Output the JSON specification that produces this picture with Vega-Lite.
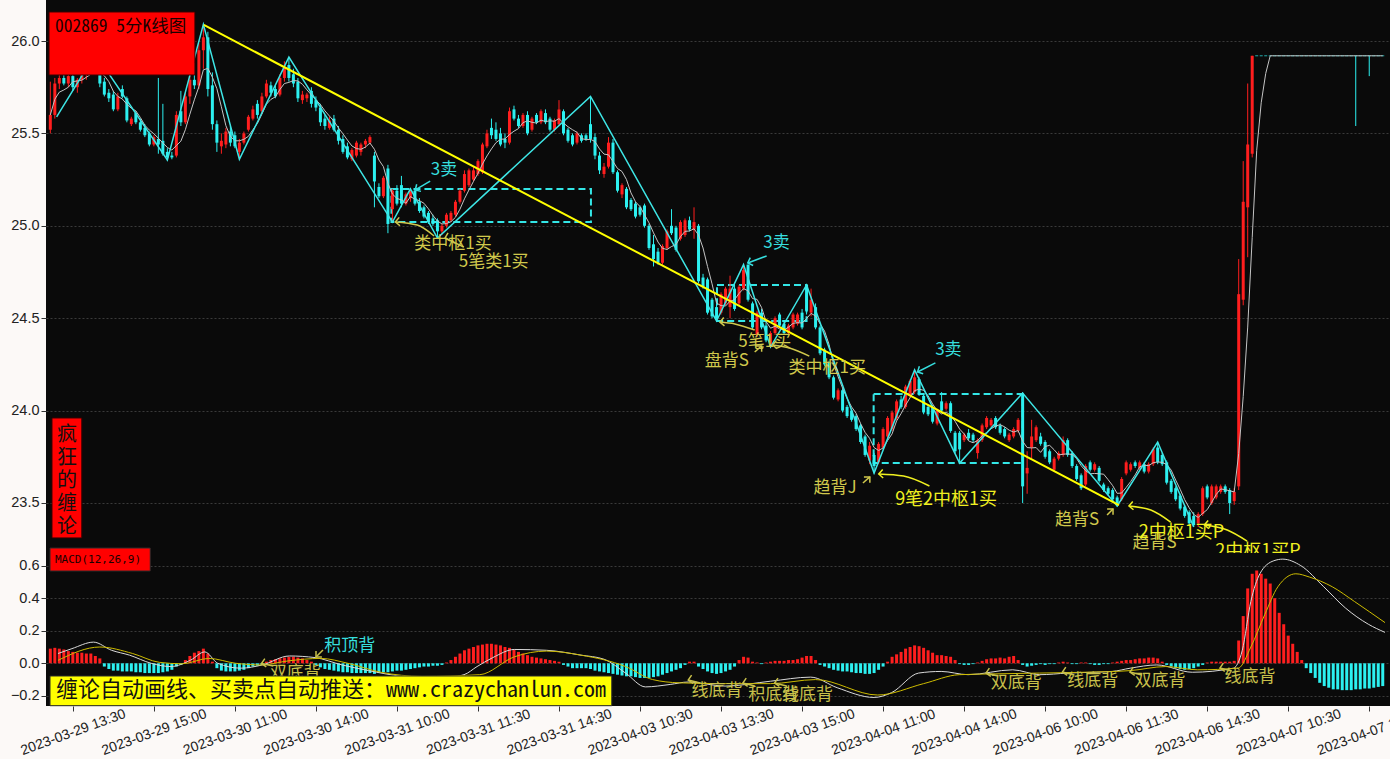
{
"$schema": "https://vega.github.io/schema/vega-lite/v6.json",
"background": "#fcf9f7",
"padding": 0,
"spacing": 0,
"bounds": "flush",
"config": {"view": {"stroke": null}, "text": {"font": "Noto Sans CJK SC"}},
"datasets": {
"k": [
{"i":0,"o":25.52,"h":25.78,"l":25.5,"c":25.6,"m":0.09},
{"i":1,"o":25.6,"h":25.8,"l":25.58,"c":25.77,"m":0.095},
{"i":2,"o":25.77,"h":25.83,"l":25.74,"c":25.8,"m":0.09},
{"i":3,"o":25.8,"h":25.84,"l":25.76,"c":25.77,"m":0.085},
{"i":4,"o":25.77,"h":25.83,"l":25.75,"c":25.81,"m":0.075},
{"i":5,"o":25.81,"h":25.84,"l":25.73,"c":25.75,"m":0.07},
{"i":6,"o":25.75,"h":25.8,"l":25.72,"c":25.79,"m":0.065},
{"i":7,"o":25.79,"h":25.84,"l":25.77,"c":25.82,"m":0.065},
{"i":8,"o":25.82,"h":25.87,"l":25.79,"c":25.85,"m":0.06},
{"i":9,"o":25.85,"h":25.91,"l":25.83,"c":25.89,"m":0.06},
{"i":10,"o":25.89,"h":25.93,"l":25.82,"c":25.84,"m":0.045},
{"i":11,"o":25.84,"h":25.86,"l":25.75,"c":25.77,"m":0.03},
{"i":12,"o":25.78,"h":25.8,"l":25.7,"c":25.71,"m":-0.02},
{"i":13,"o":25.72,"h":25.74,"l":25.67,"c":25.69,"m":-0.035},
{"i":14,"o":25.71,"h":25.73,"l":25.62,"c":25.63,"m":-0.045},
{"i":15,"o":25.63,"h":25.72,"l":25.62,"c":25.7,"m":-0.045},
{"i":16,"o":25.74,"h":25.76,"l":25.69,"c":25.7,"m":-0.05},
{"i":17,"o":25.69,"h":25.7,"l":25.56,"c":25.57,"m":-0.05},
{"i":18,"o":25.55,"h":25.59,"l":25.54,"c":25.58,"m":-0.05},
{"i":19,"o":25.61,"h":25.62,"l":25.55,"c":25.56,"m":-0.055},
{"i":20,"o":25.56,"h":25.58,"l":25.51,"c":25.52,"m":-0.055},
{"i":21,"o":25.53,"h":25.55,"l":25.48,"c":25.49,"m":-0.06},
{"i":22,"o":25.5,"h":25.51,"l":25.43,"c":25.44,"m":-0.06},
{"i":23,"o":25.44,"h":25.49,"l":25.43,"c":25.48,"m":-0.06},
{"i":24,"o":25.47,"h":25.8,"l":25.39,"c":25.44,"m":-0.06},
{"i":25,"o":25.46,"h":25.66,"l":25.38,"c":25.39,"m":-0.055},
{"i":26,"o":25.4,"h":25.42,"l":25.35,"c":25.37,"m":-0.05},
{"i":27,"o":25.38,"h":25.4,"l":25.36,"c":25.37,"m":-0.04},
{"i":28,"o":25.38,"h":25.62,"l":25.37,"c":25.6,"m":-0.02},
{"i":29,"o":25.62,"h":25.73,"l":25.54,"c":25.56,"m":-0.01},
{"i":30,"o":25.56,"h":25.72,"l":25.55,"c":25.7,"m":0.02},
{"i":31,"o":25.7,"h":25.82,"l":25.66,"c":25.79,"m":0.045},
{"i":32,"o":25.79,"h":25.88,"l":25.74,"c":25.76,"m":0.065},
{"i":33,"o":25.76,"h":25.99,"l":25.74,"c":25.95,"m":0.075},
{"i":34,"o":25.95,"h":26.09,"l":25.85,"c":26.02,"m":0.09},
{"i":35,"o":26.02,"h":26.05,"l":25.7,"c":25.74,"m":0.06},
{"i":36,"o":25.76,"h":25.83,"l":25.52,"c":25.55,"m":0.01},
{"i":37,"o":25.55,"h":25.57,"l":25.4,"c":25.45,"m":-0.03},
{"i":38,"o":25.43,"h":25.5,"l":25.39,"c":25.46,"m":-0.045},
{"i":39,"o":25.44,"h":25.53,"l":25.42,"c":25.51,"m":-0.05},
{"i":40,"o":25.51,"h":25.54,"l":25.43,"c":25.45,"m":-0.05},
{"i":41,"o":25.49,"h":25.51,"l":25.42,"c":25.43,"m":-0.05},
{"i":42,"o":25.4,"h":25.47,"l":25.36,"c":25.45,"m":-0.045},
{"i":43,"o":25.45,"h":25.51,"l":25.44,"c":25.5,"m":-0.04},
{"i":44,"o":25.52,"h":25.6,"l":25.51,"c":25.59,"m":-0.03},
{"i":45,"o":25.58,"h":25.65,"l":25.57,"c":25.63,"m":-0.02},
{"i":46,"o":25.66,"h":25.68,"l":25.58,"c":25.6,"m":-0.015},
{"i":47,"o":25.62,"h":25.72,"l":25.61,"c":25.7,"m":-0.01},
{"i":48,"o":25.7,"h":25.79,"l":25.69,"c":25.77,"m":0.01},
{"i":49,"o":25.76,"h":25.78,"l":25.7,"c":25.72,"m":0.02},
{"i":50,"o":25.74,"h":25.76,"l":25.69,"c":25.7,"m":0.025},
{"i":51,"o":25.71,"h":25.82,"l":25.7,"c":25.8,"m":0.03},
{"i":52,"o":25.8,"h":25.89,"l":25.78,"c":25.86,"m":0.035},
{"i":53,"o":25.87,"h":25.91,"l":25.78,"c":25.8,"m":0.04},
{"i":54,"o":25.82,"h":25.85,"l":25.75,"c":25.77,"m":0.04},
{"i":55,"o":25.78,"h":25.8,"l":25.67,"c":25.69,"m":0.035},
{"i":56,"o":25.68,"h":25.73,"l":25.66,"c":25.71,"m":0.03},
{"i":57,"o":25.69,"h":25.72,"l":25.67,"c":25.71,"m":0.02},
{"i":58,"o":25.73,"h":25.75,"l":25.64,"c":25.66,"m":0.01},
{"i":59,"o":25.68,"h":25.7,"l":25.62,"c":25.64,"m":-0.01},
{"i":60,"o":25.64,"h":25.66,"l":25.54,"c":25.56,"m":-0.025},
{"i":61,"o":25.58,"h":25.6,"l":25.52,"c":25.54,"m":-0.035},
{"i":62,"o":25.53,"h":25.59,"l":25.52,"c":25.57,"m":-0.04},
{"i":63,"o":25.58,"h":25.6,"l":25.51,"c":25.52,"m":-0.045},
{"i":64,"o":25.52,"h":25.54,"l":25.44,"c":25.46,"m":-0.05},
{"i":65,"o":25.47,"h":25.49,"l":25.39,"c":25.4,"m":-0.055},
{"i":66,"o":25.43,"h":25.45,"l":25.36,"c":25.37,"m":-0.055},
{"i":67,"o":25.36,"h":25.42,"l":25.35,"c":25.41,"m":-0.06},
{"i":68,"o":25.38,"h":25.46,"l":25.37,"c":25.45,"m":-0.06},
{"i":69,"o":25.4,"h":25.45,"l":25.38,"c":25.44,"m":-0.06},
{"i":70,"o":25.44,"h":25.47,"l":25.42,"c":25.46,"m":-0.06},
{"i":71,"o":25.45,"h":25.49,"l":25.44,"c":25.48,"m":-0.06},
{"i":72,"o":25.38,"h":25.4,"l":25.1,"c":25.24,"m":-0.065},
{"i":73,"o":25.21,"h":25.23,"l":25.15,"c":25.16,"m":-0.06},
{"i":74,"o":25.16,"h":25.27,"l":25.15,"c":25.26,"m":-0.055},
{"i":75,"o":25.31,"h":25.33,"l":24.96,"c":25.01,"m":-0.055},
{"i":76,"o":25.09,"h":25.2,"l":25.02,"c":25.19,"m":-0.05},
{"i":77,"o":25.19,"h":25.22,"l":25.11,"c":25.12,"m":-0.045},
{"i":78,"o":25.22,"h":25.27,"l":25.1,"c":25.12,"m":-0.045},
{"i":79,"o":25.12,"h":25.18,"l":25.11,"c":25.17,"m":-0.04},
{"i":80,"o":25.15,"h":25.2,"l":25.13,"c":25.19,"m":-0.035},
{"i":81,"o":25.19,"h":25.2,"l":25.11,"c":25.12,"m":-0.03},
{"i":82,"o":25.13,"h":25.15,"l":25.07,"c":25.08,"m":-0.025},
{"i":83,"o":25.1,"h":25.11,"l":25.04,"c":25.05,"m":-0.02},
{"i":84,"o":25.07,"h":25.08,"l":25.01,"c":25.02,"m":-0.02},
{"i":85,"o":25.04,"h":25.06,"l":25.0,"c":25.01,"m":-0.015},
{"i":86,"o":25.03,"h":25.04,"l":24.93,"c":24.97,"m":-0.015},
{"i":87,"o":24.97,"h":25.01,"l":24.95,"c":25.0,"m":-0.01},
{"i":88,"o":25.0,"h":25.07,"l":24.99,"c":25.06,"m":0.005},
{"i":89,"o":25.03,"h":25.08,"l":25.02,"c":25.07,"m":0.02},
{"i":90,"o":25.06,"h":25.14,"l":25.05,"c":25.13,"m":0.04},
{"i":91,"o":25.13,"h":25.2,"l":25.12,"c":25.19,"m":0.06},
{"i":92,"o":25.19,"h":25.3,"l":25.18,"c":25.28,"m":0.08},
{"i":93,"o":25.22,"h":25.31,"l":25.21,"c":25.3,"m":0.09},
{"i":94,"o":25.25,"h":25.32,"l":25.24,"c":25.3,"m":0.1},
{"i":95,"o":25.28,"h":25.36,"l":25.27,"c":25.35,"m":0.11},
{"i":96,"o":25.29,"h":25.45,"l":25.28,"c":25.44,"m":0.115},
{"i":97,"o":25.43,"h":25.52,"l":25.42,"c":25.5,"m":0.12},
{"i":98,"o":25.53,"h":25.58,"l":25.47,"c":25.49,"m":0.12},
{"i":99,"o":25.52,"h":25.56,"l":25.46,"c":25.47,"m":0.115},
{"i":100,"o":25.5,"h":25.53,"l":25.43,"c":25.44,"m":0.11},
{"i":101,"o":25.47,"h":25.5,"l":25.42,"c":25.45,"m":0.1},
{"i":102,"o":25.45,"h":25.64,"l":25.44,"c":25.62,"m":0.095},
{"i":103,"o":25.63,"h":25.65,"l":25.57,"c":25.58,"m":0.085},
{"i":104,"o":25.58,"h":25.6,"l":25.53,"c":25.54,"m":0.07},
{"i":105,"o":25.54,"h":25.61,"l":25.53,"c":25.6,"m":0.06},
{"i":106,"o":25.6,"h":25.62,"l":25.49,"c":25.5,"m":0.05},
{"i":107,"o":25.52,"h":25.59,"l":25.51,"c":25.58,"m":0.04},
{"i":108,"o":25.6,"h":25.61,"l":25.55,"c":25.56,"m":0.035},
{"i":109,"o":25.56,"h":25.63,"l":25.55,"c":25.62,"m":0.03},
{"i":110,"o":25.61,"h":25.63,"l":25.55,"c":25.56,"m":0.025},
{"i":111,"o":25.58,"h":25.59,"l":25.51,"c":25.52,"m":0.02},
{"i":112,"o":25.52,"h":25.58,"l":25.51,"c":25.57,"m":0.015},
{"i":113,"o":25.55,"h":25.68,"l":25.54,"c":25.63,"m":0.01},
{"i":114,"o":25.62,"h":25.63,"l":25.49,"c":25.5,"m":-0.01},
{"i":115,"o":25.52,"h":25.53,"l":25.45,"c":25.46,"m":-0.02},
{"i":116,"o":25.49,"h":25.5,"l":25.43,"c":25.44,"m":-0.03},
{"i":117,"o":25.45,"h":25.51,"l":25.44,"c":25.5,"m":-0.03},
{"i":118,"o":25.49,"h":25.5,"l":25.45,"c":25.46,"m":-0.03},
{"i":119,"o":25.49,"h":25.5,"l":25.46,"c":25.47,"m":-0.03},
{"i":120,"o":25.55,"h":25.7,"l":25.45,"c":25.47,"m":-0.035},
{"i":121,"o":25.48,"h":25.5,"l":25.36,"c":25.38,"m":-0.045},
{"i":122,"o":25.38,"h":25.4,"l":25.28,"c":25.3,"m":-0.05},
{"i":123,"o":25.28,"h":25.34,"l":25.26,"c":25.32,"m":-0.055},
{"i":124,"o":25.32,"h":25.48,"l":25.31,"c":25.45,"m":-0.06},
{"i":125,"o":25.45,"h":25.47,"l":25.28,"c":25.29,"m":-0.065},
{"i":126,"o":25.29,"h":25.3,"l":25.18,"c":25.19,"m":-0.07},
{"i":127,"o":25.17,"h":25.23,"l":25.15,"c":25.22,"m":-0.075},
{"i":128,"o":25.2,"h":25.21,"l":25.09,"c":25.1,"m":-0.08},
{"i":129,"o":25.14,"h":25.15,"l":25.08,"c":25.09,"m":-0.08},
{"i":130,"o":25.12,"h":25.13,"l":25.04,"c":25.05,"m":-0.085},
{"i":131,"o":25.1,"h":25.11,"l":25.05,"c":25.06,"m":-0.09},
{"i":132,"o":25.11,"h":25.12,"l":24.99,"c":25.0,"m":-0.09},
{"i":133,"o":25.0,"h":25.01,"l":24.87,"c":24.88,"m":-0.09},
{"i":134,"o":24.9,"h":24.95,"l":24.78,"c":24.82,"m":-0.085},
{"i":135,"o":24.86,"h":24.88,"l":24.79,"c":24.8,"m":-0.08},
{"i":136,"o":24.8,"h":24.9,"l":24.79,"c":24.89,"m":-0.07},
{"i":137,"o":24.88,"h":24.98,"l":24.87,"c":24.97,"m":-0.06},
{"i":138,"o":25.0,"h":25.09,"l":24.95,"c":24.96,"m":-0.05},
{"i":139,"o":24.99,"h":25.0,"l":24.86,"c":24.87,"m":-0.04},
{"i":140,"o":24.93,"h":25.03,"l":24.92,"c":25.02,"m":-0.03},
{"i":141,"o":24.95,"h":25.04,"l":24.94,"c":25.03,"m":-0.01},
{"i":142,"o":25.03,"h":25.05,"l":24.97,"c":24.98,"m":0.01},
{"i":143,"o":24.98,"h":25.1,"l":24.93,"c":25.02,"m":0.01},
{"i":144,"o":25.0,"h":25.01,"l":24.69,"c":24.7,"m":-0.02},
{"i":145,"o":24.72,"h":24.74,"l":24.66,"c":24.67,"m":-0.035},
{"i":146,"o":24.71,"h":24.72,"l":24.52,"c":24.53,"m":-0.05},
{"i":147,"o":24.6,"h":24.61,"l":24.5,"c":24.51,"m":-0.06},
{"i":148,"o":24.56,"h":24.58,"l":24.48,"c":24.5,"m":-0.065},
{"i":149,"o":24.53,"h":24.64,"l":24.52,"c":24.63,"m":-0.06},
{"i":150,"o":24.58,"h":24.67,"l":24.57,"c":24.66,"m":-0.05},
{"i":151,"o":24.56,"h":24.73,"l":24.5,"c":24.66,"m":-0.04},
{"i":152,"o":24.66,"h":24.68,"l":24.54,"c":24.55,"m":-0.02},
{"i":153,"o":24.58,"h":24.68,"l":24.57,"c":24.67,"m":0.02},
{"i":154,"o":24.66,"h":24.79,"l":24.65,"c":24.76,"m":0.04},
{"i":155,"o":24.79,"h":24.79,"l":24.59,"c":24.6,"m":0.035},
{"i":156,"o":24.58,"h":24.59,"l":24.44,"c":24.45,"m":0.01},
{"i":157,"o":24.41,"h":24.54,"l":24.4,"c":24.53,"m":0.005},
{"i":158,"o":24.53,"h":24.55,"l":24.44,"c":24.45,"m":-0.005},
{"i":159,"o":24.46,"h":24.48,"l":24.37,"c":24.38,"m":0.005},
{"i":160,"o":24.36,"h":24.43,"l":24.34,"c":24.42,"m":0.01},
{"i":161,"o":24.42,"h":24.51,"l":24.41,"c":24.5,"m":0.015},
{"i":162,"o":24.52,"h":24.53,"l":24.45,"c":24.46,"m":0.015},
{"i":163,"o":24.47,"h":24.48,"l":24.41,"c":24.42,"m":0.015},
{"i":164,"o":24.42,"h":24.47,"l":24.41,"c":24.46,"m":0.02},
{"i":165,"o":24.45,"h":24.53,"l":24.44,"c":24.52,"m":0.02},
{"i":166,"o":24.47,"h":24.53,"l":24.46,"c":24.52,"m":0.025},
{"i":167,"o":24.53,"h":24.55,"l":24.44,"c":24.45,"m":0.035},
{"i":168,"o":24.68,"h":24.68,"l":24.52,"c":24.54,"m":0.045},
{"i":169,"o":24.53,"h":24.66,"l":24.51,"c":24.6,"m":0.045},
{"i":170,"o":24.56,"h":24.58,"l":24.44,"c":24.45,"m":0.02},
{"i":171,"o":24.45,"h":24.46,"l":24.3,"c":24.31,"m":-0.01},
{"i":172,"o":24.33,"h":24.34,"l":24.24,"c":24.25,"m":-0.02},
{"i":173,"o":24.26,"h":24.27,"l":24.17,"c":24.18,"m":-0.03},
{"i":174,"o":24.18,"h":24.19,"l":24.06,"c":24.07,"m":-0.04},
{"i":175,"o":24.06,"h":24.12,"l":24.05,"c":24.11,"m":-0.045},
{"i":176,"o":24.11,"h":24.12,"l":23.99,"c":24.0,"m":-0.05},
{"i":177,"o":24.02,"h":24.03,"l":23.96,"c":23.97,"m":-0.05},
{"i":178,"o":24.0,"h":24.01,"l":23.94,"c":23.95,"m":-0.055},
{"i":179,"o":23.97,"h":23.98,"l":23.89,"c":23.9,"m":-0.06},
{"i":180,"o":23.92,"h":23.93,"l":23.82,"c":23.83,"m":-0.06},
{"i":181,"o":23.86,"h":23.87,"l":23.75,"c":23.76,"m":-0.065},
{"i":182,"o":23.73,"h":23.83,"l":23.71,"c":23.81,"m":-0.065},
{"i":183,"o":23.76,"h":23.77,"l":23.66,"c":23.7,"m":-0.06},
{"i":184,"o":23.72,"h":23.83,"l":23.71,"c":23.82,"m":-0.04},
{"i":185,"o":23.8,"h":23.91,"l":23.79,"c":23.9,"m":-0.02},
{"i":186,"o":23.86,"h":23.97,"l":23.85,"c":23.96,"m":0.01},
{"i":187,"o":23.9,"h":24.0,"l":23.89,"c":23.99,"m":0.04},
{"i":188,"o":23.96,"h":24.06,"l":23.95,"c":24.05,"m":0.055},
{"i":189,"o":24.06,"h":24.08,"l":24.01,"c":24.02,"m":0.07},
{"i":190,"o":24.02,"h":24.14,"l":24.01,"c":24.13,"m":0.09},
{"i":191,"o":24.08,"h":24.17,"l":24.07,"c":24.16,"m":0.1},
{"i":192,"o":24.1,"h":24.22,"l":24.09,"c":24.18,"m":0.11},
{"i":193,"o":24.17,"h":24.18,"l":24.08,"c":24.09,"m":0.105},
{"i":194,"o":24.08,"h":24.09,"l":23.98,"c":23.99,"m":0.095},
{"i":195,"o":24.02,"h":24.03,"l":23.97,"c":23.98,"m":0.08},
{"i":196,"o":24.02,"h":24.03,"l":23.93,"c":23.94,"m":0.065},
{"i":197,"o":23.93,"h":24.01,"l":23.92,"c":24.0,"m":0.05},
{"i":198,"o":24.05,"h":24.1,"l":23.99,"c":24.0,"m":0.05},
{"i":199,"o":24.01,"h":24.05,"l":24.0,"c":24.04,"m":0.045},
{"i":200,"o":24.04,"h":24.05,"l":23.88,"c":23.89,"m":0.04},
{"i":201,"o":23.88,"h":23.89,"l":23.77,"c":23.78,"m":0.02},
{"i":202,"o":23.88,"h":23.89,"l":23.72,"c":23.79,"m":-0.005},
{"i":203,"o":23.84,"h":23.88,"l":23.83,"c":23.87,"m":-0.01},
{"i":204,"o":23.88,"h":23.9,"l":23.84,"c":23.85,"m":-0.01},
{"i":205,"o":23.87,"h":23.88,"l":23.83,"c":23.84,"m":-0.005},
{"i":206,"o":23.77,"h":23.85,"l":23.74,"c":23.84,"m":0.005},
{"i":207,"o":23.84,"h":23.93,"l":23.83,"c":23.92,"m":0.015},
{"i":208,"o":23.91,"h":23.97,"l":23.9,"c":23.96,"m":0.025},
{"i":209,"o":23.92,"h":23.96,"l":23.91,"c":23.95,"m":0.03},
{"i":210,"o":23.96,"h":23.97,"l":23.9,"c":23.91,"m":0.03},
{"i":211,"o":23.92,"h":23.93,"l":23.87,"c":23.88,"m":0.035},
{"i":212,"o":23.9,"h":23.91,"l":23.85,"c":23.86,"m":0.03},
{"i":213,"o":23.84,"h":23.88,"l":23.83,"c":23.87,"m":0.04},
{"i":214,"o":23.86,"h":23.91,"l":23.85,"c":23.9,"m":0.045},
{"i":215,"o":23.89,"h":23.96,"l":23.88,"c":23.95,"m":0.02},
{"i":216,"o":24.09,"h":24.1,"l":23.5,"c":23.59,"m":-0.01},
{"i":217,"o":23.66,"h":23.78,"l":23.55,"c":23.69,"m":-0.02},
{"i":218,"o":23.8,"h":23.95,"l":23.74,"c":23.86,"m":-0.015},
{"i":219,"o":23.84,"h":23.92,"l":23.83,"c":23.91,"m":-0.01},
{"i":220,"o":23.86,"h":23.88,"l":23.81,"c":23.82,"m":-0.005},
{"i":221,"o":23.83,"h":23.84,"l":23.74,"c":23.75,"m":-0.01},
{"i":222,"o":23.78,"h":23.79,"l":23.71,"c":23.72,"m":-0.005},
{"i":223,"o":23.68,"h":23.75,"l":23.67,"c":23.74,"m":-0.005},
{"i":224,"o":23.74,"h":23.78,"l":23.73,"c":23.77,"m":0.005},
{"i":225,"o":23.76,"h":23.86,"l":23.75,"c":23.84,"m":0.01},
{"i":226,"o":23.84,"h":23.85,"l":23.75,"c":23.76,"m":0.005},
{"i":227,"o":23.77,"h":23.78,"l":23.69,"c":23.7,"m":-0.005},
{"i":228,"o":23.7,"h":23.71,"l":23.62,"c":23.63,"m":-0.005},
{"i":229,"o":23.65,"h":23.66,"l":23.57,"c":23.58,"m":0.005},
{"i":230,"o":23.6,"h":23.71,"l":23.59,"c":23.7,"m":0.005},
{"i":231,"o":23.72,"h":23.73,"l":23.67,"c":23.68,"m":-0.005},
{"i":232,"o":23.68,"h":23.72,"l":23.67,"c":23.71,"m":-0.01},
{"i":233,"o":23.69,"h":23.7,"l":23.61,"c":23.62,"m":-0.01},
{"i":234,"o":23.6,"h":23.61,"l":23.56,"c":23.57,"m":-0.005},
{"i":235,"o":23.58,"h":23.59,"l":23.54,"c":23.55,"m":-0.005},
{"i":236,"o":23.57,"h":23.58,"l":23.51,"c":23.52,"m":0.005},
{"i":237,"o":23.53,"h":23.54,"l":23.48,"c":23.5,"m":0.01},
{"i":238,"o":23.52,"h":23.64,"l":23.51,"c":23.63,"m":0.015},
{"i":239,"o":23.66,"h":23.73,"l":23.65,"c":23.72,"m":0.02},
{"i":240,"o":23.68,"h":23.72,"l":23.67,"c":23.71,"m":0.02},
{"i":241,"o":23.72,"h":23.73,"l":23.69,"c":23.7,"m":0.025},
{"i":242,"o":23.69,"h":23.73,"l":23.68,"c":23.72,"m":0.03},
{"i":243,"o":23.71,"h":23.72,"l":23.66,"c":23.67,"m":0.03},
{"i":244,"o":23.67,"h":23.72,"l":23.66,"c":23.71,"m":0.035},
{"i":245,"o":23.71,"h":23.8,"l":23.7,"c":23.79,"m":0.035},
{"i":246,"o":23.8,"h":23.83,"l":23.71,"c":23.72,"m":0.03},
{"i":247,"o":23.76,"h":23.77,"l":23.7,"c":23.71,"m":0.01},
{"i":248,"o":23.72,"h":23.73,"l":23.6,"c":23.61,"m":-0.01},
{"i":249,"o":23.62,"h":23.63,"l":23.55,"c":23.56,"m":-0.02},
{"i":250,"o":23.58,"h":23.59,"l":23.51,"c":23.52,"m":-0.03},
{"i":251,"o":23.54,"h":23.55,"l":23.46,"c":23.47,"m":-0.035},
{"i":252,"o":23.48,"h":23.49,"l":23.42,"c":23.43,"m":-0.04},
{"i":253,"o":23.45,"h":23.46,"l":23.38,"c":23.39,"m":-0.035},
{"i":254,"o":23.43,"h":23.45,"l":23.37,"c":23.38,"m":-0.03},
{"i":255,"o":23.39,"h":23.45,"l":23.37,"c":23.44,"m":-0.02},
{"i":256,"o":23.44,"h":23.59,"l":23.43,"c":23.58,"m":-0.01},
{"i":257,"o":23.59,"h":23.6,"l":23.52,"c":23.53,"m":0.005},
{"i":258,"o":23.5,"h":23.6,"l":23.49,"c":23.59,"m":0.01},
{"i":259,"o":23.53,"h":23.6,"l":23.52,"c":23.59,"m":0.01},
{"i":260,"o":23.56,"h":23.6,"l":23.55,"c":23.59,"m":0.01},
{"i":261,"o":23.59,"h":23.6,"l":23.55,"c":23.56,"m":0.01},
{"i":262,"o":23.57,"h":23.58,"l":23.44,"c":23.5,"m":0.01},
{"i":263,"o":23.51,"h":23.58,"l":23.49,"c":23.56,"m":0.015},
{"i":264,"o":23.59,"h":24.82,"l":23.57,"c":24.63,"m":0.14},
{"i":265,"o":24.6,"h":25.35,"l":24.57,"c":25.13,"m":0.29},
{"i":266,"o":25.1,"h":25.77,"l":24.83,"c":25.44,"m":0.46},
{"i":267,"o":25.39,"h":25.92,"l":25.37,"c":25.92,"m":0.55},
{"i":268,"o":25.92,"h":25.92,"l":25.92,"c":25.92,"m":0.57},
{"i":269,"o":25.92,"h":25.92,"l":25.92,"c":25.92,"m":0.55},
{"i":270,"o":25.92,"h":25.92,"l":25.92,"c":25.92,"m":0.52},
{"i":271,"o":25.92,"h":25.92,"l":25.92,"c":25.92,"m":0.49},
{"i":272,"o":25.92,"h":25.92,"l":25.92,"c":25.92,"m":0.4},
{"i":273,"o":25.92,"h":25.92,"l":25.92,"c":25.92,"m":0.31},
{"i":274,"o":25.92,"h":25.92,"l":25.92,"c":25.92,"m":0.24},
{"i":275,"o":25.92,"h":25.92,"l":25.92,"c":25.92,"m":0.17},
{"i":276,"o":25.92,"h":25.92,"l":25.92,"c":25.92,"m":0.12},
{"i":277,"o":25.92,"h":25.92,"l":25.92,"c":25.92,"m":0.07},
{"i":278,"o":25.92,"h":25.92,"l":25.92,"c":25.92,"m":0.02},
{"i":279,"o":25.92,"h":25.92,"l":25.92,"c":25.92,"m":-0.03},
{"i":280,"o":25.92,"h":25.92,"l":25.92,"c":25.92,"m":-0.06},
{"i":281,"o":25.92,"h":25.92,"l":25.92,"c":25.92,"m":-0.09},
{"i":282,"o":25.92,"h":25.92,"l":25.92,"c":25.92,"m":-0.12},
{"i":283,"o":25.92,"h":25.92,"l":25.92,"c":25.92,"m":-0.14},
{"i":284,"o":25.92,"h":25.92,"l":25.92,"c":25.92,"m":-0.15},
{"i":285,"o":25.92,"h":25.92,"l":25.92,"c":25.92,"m":-0.16},
{"i":286,"o":25.92,"h":25.92,"l":25.92,"c":25.92,"m":-0.16},
{"i":287,"o":25.92,"h":25.92,"l":25.92,"c":25.92,"m":-0.165},
{"i":288,"o":25.92,"h":25.92,"l":25.92,"c":25.92,"m":-0.165},
{"i":289,"o":25.92,"h":25.92,"l":25.92,"c":25.92,"m":-0.165},
{"i":290,"o":25.92,"h":25.92,"l":25.54,"c":25.92,"m":-0.16},
{"i":291,"o":25.92,"h":25.92,"l":25.92,"c":25.92,"m":-0.16},
{"i":292,"o":25.92,"h":25.92,"l":25.92,"c":25.92,"m":-0.155},
{"i":293,"o":25.92,"h":25.92,"l":25.81,"c":25.92,"m":-0.155},
{"i":294,"o":25.92,"h":25.92,"l":25.92,"c":25.92,"m":-0.15},
{"i":295,"o":25.92,"h":25.92,"l":25.92,"c":25.92,"m":-0.145},
{"i":296,"o":25.92,"h":25.92,"l":25.92,"c":25.92,"m":-0.14}
],
"bi": [{"i":1.4,"p":25.59},{"i":10,"p":25.93},{"i":26,"p":25.356},{"i":34,"p":26.09},{"i":42,"p":25.36},{"i":53,"p":25.913},{"i":76,"p":25.02},{"i":80,"p":25.2},{"i":86,"p":24.934},{"i":120,"p":25.7},{"i":148,"p":24.485},{"i":154,"p":24.79},{"i":160,"p":24.344},{"i":168,"p":24.68},{"i":183,"p":23.662},{"i":192,"p":24.22},{"i":202,"p":23.716},{"i":216,"p":24.095},{"i":237,"p":23.484},{"i":246,"p":23.83},{"i":254,"p":23.37}],
"trend": [{"i":34.1,"p":26.087},{"i":237.4,"p":23.489}],
"zs": [{"x1":75.78,"x2":120.1,"y1":25.199,"y2":25.021},{"x1":148.1,"x2":168,"y1":24.68,"y2":24.485},{"x1":182.9,"x2":216,"y1":24.09,"y2":23.716}],
"ann": [
{"i":87.47,"p":25.302,"t":"3卖","c":"#36dede","s":17},
{"i":89.45,"p":24.901,"t":"类中枢1买","c":"#d0c84c","s":17},
{"i":98.49,"p":24.804,"t":"5笔类1买","c":"#d0c84c","s":17},
{"i":161.33,"p":24.907,"t":"3卖","c":"#36dede","s":17},
{"i":158.7,"p":24.371,"t":"5笔1买","c":"#d0c84c","s":17},
{"i":150.3,"p":24.268,"t":"盘背S","c":"#d0c84c","s":17},
{"i":172.6,"p":24.23,"t":"类中枢1买","c":"#d0c84c","s":17},
{"i":199.5,"p":24.328,"t":"3卖","c":"#36dede","s":17},
{"i":174.3,"p":23.581,"t":"趋背J","c":"#d0c84c","s":17},
{"i":199.0,"p":23.516,"t":"9笔2中枢1买","c":"#f0f020","s":18},
{"i":228.1,"p":23.408,"t":"趋背S","c":"#d0c84c","s":17},
{"i":245.3,"p":23.284,"t":"趋背S","c":"#d0c84c","s":17},
{"i":251.3,"p":23.338,"t":"2中枢1买P","c":"#f0f020","s":18},
{"i":268.3,"p":23.235,"t":"2中枢1买P","c":"#f0f020","s":18}
],
"arr": [
{"g":1,"k":1,"i":81.07,"p":25.194,"c":"#36dede"},{"g":1,"k":2,"i":84.38,"p":25.242,"c":"#36dede"},
{"g":2,"k":1,"i":76.66,"p":25.021,"c":"#d0c84c"},{"g":2,"k":2,"i":81.51,"p":25.004,"c":"#d0c84c"},{"g":2,"k":3,"i":85.26,"p":24.945,"c":"#d0c84c"},
{"g":3,"k":1,"i":87.69,"p":24.934,"c":"#d0c84c"},{"g":3,"k":2,"i":91.88,"p":24.885,"c":"#d0c84c"},
{"g":4,"k":1,"i":154.94,"p":24.799,"c":"#36dede"},{"g":4,"k":2,"i":159.13,"p":24.837,"c":"#36dede"},
{"g":5,"k":1,"i":148.76,"p":24.479,"c":"#d0c84c"},{"g":5,"k":2,"i":152.07,"p":24.469,"c":"#d0c84c"},{"g":5,"k":3,"i":156.48,"p":24.436,"c":"#d0c84c"},
{"g":6,"k":1,"i":158.02,"p":24.35,"c":"#d0c84c"},{"g":6,"k":2,"i":156.48,"p":24.317,"c":"#d0c84c"},
{"g":7,"k":1,"i":160.45,"p":24.355,"c":"#d0c84c"},{"g":7,"k":2,"i":164.2,"p":24.339,"c":"#d0c84c"},{"g":7,"k":3,"i":168.61,"p":24.295,"c":"#d0c84c"},
{"g":8,"k":1,"i":192.65,"p":24.209,"c":"#36dede"},{"g":8,"k":2,"i":196.62,"p":24.258,"c":"#36dede"},
{"g":9,"k":1,"i":182.06,"p":23.641,"c":"#d0c84c"},{"g":9,"k":2,"i":180.52,"p":23.608,"c":"#d0c84c"},
{"g":10,"k":1,"i":184.04,"p":23.657,"c":"#f0f020"},{"g":10,"k":2,"i":189.55,"p":23.646,"c":"#f0f020"},{"g":10,"k":3,"i":195.29,"p":23.592,"c":"#f0f020"},
{"g":11,"k":1,"i":236.08,"p":23.468,"c":"#d0c84c"},{"g":11,"k":2,"i":234.76,"p":23.435,"c":"#d0c84c"},
{"g":12,"k":1,"i":239.62,"p":23.484,"c":"#f0f020"},{"g":12,"k":2,"i":244.47,"p":23.462,"c":"#f0f020"},{"g":12,"k":3,"i":248.88,"p":23.397,"c":"#f0f020"},
{"g":13,"k":1,"i":256.37,"p":23.381,"c":"#f0f020"},{"g":13,"k":2,"i":261.45,"p":23.354,"c":"#f0f020"},{"g":13,"k":3,"i":265.86,"p":23.294,"c":"#f0f020"}
],
"heads": [
{"i":81.07,"p":25.194,"a":-31,"c":"#36dede"},
{"i":76.66,"p":25.021,"a":-5,"c":"#d0c84c"},
{"i":87.69,"p":24.934,"a":-15,"c":"#d0c84c"},
{"i":154.94,"p":24.799,"a":-20,"c":"#36dede"},
{"i":148.76,"p":24.479,"a":-5,"c":"#d0c84c"},
{"i":158.02,"p":24.35,"a":135,"c":"#d0c84c"},
{"i":160.45,"p":24.355,"a":-5,"c":"#d0c84c"},
{"i":192.65,"p":24.209,"a":-27,"c":"#36dede"},
{"i":182.06,"p":23.641,"a":135,"c":"#d0c84c"},
{"i":184.04,"p":23.657,"a":-3,"c":"#f0f020"},
{"i":236.08,"p":23.468,"a":135,"c":"#d0c84c"},
{"i":239.62,"p":23.484,"a":-5,"c":"#f0f020"},
{"i":256.37,"p":23.381,"a":-5,"c":"#f0f020"}
],
"dif": [{"i":1.7,"v":0.06},{"i":4.8,"v":0.09},{"i":9.6,"v":0.13},{"i":13.6,"v":0.08},{"i":17.6,"v":0.05},{"i":22.4,"v":0.0},{"i":26.8,"v":-0.02},{"i":31.2,"v":0.02},{"i":34.3,"v":0.07},{"i":37.2,"v":0.0},{"i":42.3,"v":-0.03},{"i":47.1,"v":-0.01},{"i":53.1,"v":0.045},{"i":58.8,"v":0.035},{"i":64.8,"v":-0.01},{"i":70.7,"v":-0.045},{"i":78,"v":-0.08},{"i":86,"v":-0.095},{"i":91.9,"v":-0.07},{"i":94.8,"v":-0.02},{"i":98.3,"v":0.035},{"i":103.1,"v":0.085},{"i":110.2,"v":0.08},{"i":117.9,"v":0.05},{"i":123,"v":0.025},{"i":127.8,"v":-0.06},{"i":132.2,"v":-0.145},{"i":137.7,"v":-0.13},{"i":141.7,"v":-0.115},{"i":149.9,"v":-0.14},{"i":160,"v":-0.11},{"i":168.9,"v":-0.085},{"i":174.8,"v":-0.15},{"i":183,"v":-0.21},{"i":186.9,"v":-0.18},{"i":192.9,"v":-0.06},{"i":197.9,"v":-0.05},{"i":203.9,"v":-0.07},{"i":213.8,"v":-0.04},{"i":219.8,"v":-0.07},{"i":226,"v":-0.06},{"i":235.9,"v":-0.05},{"i":239.9,"v":-0.03},{"i":245.8,"v":-0.01},{"i":253.7,"v":-0.055},{"i":262.8,"v":-0.03},{"i":264.8,"v":0.08},{"i":266.7,"v":0.38},{"i":268.7,"v":0.55},{"i":271.8,"v":0.63},{"i":273.8,"v":0.64},{"i":277.8,"v":0.6},{"i":282.9,"v":0.47},{"i":287.7,"v":0.34},{"i":292.8,"v":0.24},{"i":296.5,"v":0.19}],
"dea": [{"i":1.7,"v":0.018},{"i":11,"v":0.1},{"i":18.3,"v":0.06},{"i":24.2,"v":0.006},{"i":29.3,"v":-0.003},{"i":35.2,"v":0.03},{"i":41.2,"v":0.0},{"i":46.9,"v":-0.01},{"i":52.9,"v":0.015},{"i":60.1,"v":0.03},{"i":66.1,"v":0.0},{"i":73.4,"v":-0.055},{"i":82.6,"v":-0.08},{"i":95.4,"v":-0.07},{"i":103.1,"v":0.04},{"i":110.2,"v":0.075},{"i":117.9,"v":0.05},{"i":127.8,"v":-0.02},{"i":133.8,"v":-0.1},{"i":139.7,"v":-0.12},{"i":149.9,"v":-0.125},{"i":160,"v":-0.125},{"i":170,"v":-0.1},{"i":183.8,"v":-0.195},{"i":194,"v":-0.125},{"i":201.9,"v":-0.07},{"i":209.9,"v":-0.065},{"i":219.8,"v":-0.06},{"i":229.9,"v":-0.055},{"i":239.9,"v":-0.045},{"i":247.8,"v":-0.02},{"i":254.8,"v":-0.04},{"i":263.9,"v":-0.03},{"i":266.7,"v":0.1},{"i":269.8,"v":0.3},{"i":272.7,"v":0.47},{"i":276.7,"v":0.55},{"i":279.7,"v":0.53},{"i":284.8,"v":0.47},{"i":289.7,"v":0.38},{"i":296.5,"v":0.25}],
"mann": [
{"i":66.5,"v":0.109,"t":"积顶背","c":"#36dede"},
{"i":54.39,"v":-0.06,"t":"双底背","c":"#c8c04a"},
{"i":148.1,"v":-0.17,"t":"线底背","c":"#c8c04a"},
{"i":160.7,"v":-0.195,"t":"积底背","c":"#c8c04a"},
{"i":168.2,"v":-0.195,"t":"线底背","c":"#c8c04a"},
{"i":214.6,"v":-0.119,"t":"双底背","c":"#c8c04a"},
{"i":231.6,"v":-0.109,"t":"线底背","c":"#c8c04a"},
{"i":246.5,"v":-0.109,"t":"双底背","c":"#c8c04a"},
{"i":266.5,"v":-0.087,"t":"线底背","c":"#c8c04a"}
],
"marr": [
{"g":1,"i":59.02,"v":0.0387},{"g":1,"i":60.57,"v":0.0817},
{"g":2,"i":46.9,"v":-0.001},{"g":2,"i":49.54,"v":-0.016},
{"g":3,"i":141.71,"v":-0.1026},{"g":3,"i":144.36,"v":-0.121},
{"g":4,"i":153.84,"v":-0.121},{"g":4,"i":156.48,"v":-0.1398},
{"g":5,"i":160.89,"v":-0.121},{"g":5,"i":163.54,"v":-0.1398},
{"g":6,"i":207.86,"v":-0.0596},{"g":6,"i":210.5,"v":-0.078},
{"g":7,"i":224.84,"v":-0.0535},{"g":7,"i":227.49,"v":-0.0719},
{"g":8,"i":239.83,"v":-0.0535},{"g":8,"i":242.48,"v":-0.0719},
{"g":9,"i":259.83,"v":-0.0289},{"g":9,"i":262.47,"v":-0.0473}
],
"mheads": [
{"i":59.02,"v":0.0387,"a":-45},{"i":46.9,"v":-0.001,"a":-10},{"i":141.71,"v":-0.1026,"a":-10},{"i":153.84,"v":-0.121,"a":-10},{"i":160.89,"v":-0.121,"a":-10},{"i":207.86,"v":-0.0596,"a":-10},{"i":224.84,"v":-0.0535,"a":-10},{"i":239.83,"v":-0.0535,"a":-10},{"i":259.83,"v":-0.0289,"a":-10}
]
},
"vconcat": [
{
"width": 1344, "height": 553,
"view": {"fill": "#0a0a0a", "stroke": null},
"encoding": {"x": {"field": "i", "type": "quantitative", "scale": {"domain": [0.15, 296.5], "nice": false, "zero": false}, "axis": null}},
"layer": [
{"data": {"name": "zs"}, "mark": {"type": "rect", "filled": false, "color": "#33e6e6", "strokeWidth": 2, "strokeDash": [7, 4]},
 "encoding": {"x": {"field": "x1", "type": "quantitative", "scale": {"domain": [0.15, 296.5], "nice": false, "zero": false}, "axis": null}, "x2": {"field": "x2"},
  "y": {"field": "y1", "type": "quantitative", "scale": {"domain": [23.2294, 26.2219], "nice": false, "zero": false}, "axis": {"values": [23.5, 24, 24.5, 25, 25.5, 26], "format": ".1f", "grid": true, "gridColor": "#3a3a3a", "gridDash": [2, 2], "tickSize": 5, "tickColor": "#333", "labelPadding": 2, "domain": false, "title": null, "labelFont": "Liberation Sans", "labelFontSize": 14.5, "labelColor": "#222", "minExtent": 46, "maxExtent": 46}},
  "y2": {"field": "y2"}}},
{"data": {"name": "k"}, "mark": {"type": "rule", "strokeWidth": 1, "clip": true},
 "encoding": {"y": {"field": "l", "type": "quantitative", "scale": {"domain": [23.2294, 26.2219], "nice": false, "zero": false}, "axis": {"values": [23.5, 24, 24.5, 25, 25.5, 26], "format": ".1f", "grid": true, "gridColor": "#3a3a3a", "gridDash": [2, 2], "tickSize": 5, "tickColor": "#333", "labelPadding": 2, "domain": false, "title": null, "labelFont": "Liberation Sans", "labelFontSize": 14.5, "labelColor": "#222", "minExtent": 46, "maxExtent": 46}}, "y2": {"field": "h"},
  "color": {"condition": {"test": "datum.c > datum.o", "value": "#ff1e1e"}, "value": "#2cf0f0"}}},
{"data": {"name": "k"}, "mark": {"type": "bar", "width": 3, "clip": true},
 "encoding": {"y": {"field": "o", "type": "quantitative", "scale": {"domain": [23.2294, 26.2219], "nice": false, "zero": false}, "axis": {"values": [23.5, 24, 24.5, 25, 25.5, 26], "format": ".1f", "grid": true, "gridColor": "#3a3a3a", "gridDash": [2, 2], "tickSize": 5, "tickColor": "#333", "labelPadding": 2, "domain": false, "title": null, "labelFont": "Liberation Sans", "labelFontSize": 14.5, "labelColor": "#222", "minExtent": 46, "maxExtent": 46}}, "y2": {"field": "c"},
  "color": {"condition": {"test": "datum.c > datum.o", "value": "#ff1e1e"}, "value": "#2cf0f0"}}},
{"data": {"name": "k"}, "transform": [{"filter": "datum.o == datum.c"}], "mark": {"type": "tick", "orient": "horizontal", "size": 3, "thickness": 1, "color": "#2cf0f0", "clip": true},
 "encoding": {"y": {"field": "c", "type": "quantitative", "scale": {"domain": [23.2294, 26.2219], "nice": false, "zero": false}, "axis": {"values": [23.5, 24, 24.5, 25, 25.5, 26], "format": ".1f", "grid": true, "gridColor": "#3a3a3a", "gridDash": [2, 2], "tickSize": 5, "tickColor": "#333", "labelPadding": 2, "domain": false, "title": null, "labelFont": "Liberation Sans", "labelFontSize": 14.5, "labelColor": "#222", "minExtent": 46, "maxExtent": 46}}}},
{"data": {"name": "k"}, "transform": [{"window": [{"op": "mean", "field": "c", "as": "ma"}], "frame": [-4, 0], "sort": [{"field": "i"}]}],
 "mark": {"type": "line", "color": "#c4c4c4", "strokeWidth": 1, "clip": true},
 "encoding": {"y": {"field": "ma", "type": "quantitative", "scale": {"domain": [23.2294, 26.2219], "nice": false, "zero": false}, "axis": {"values": [23.5, 24, 24.5, 25, 25.5, 26], "format": ".1f", "grid": true, "gridColor": "#3a3a3a", "gridDash": [2, 2], "tickSize": 5, "tickColor": "#333", "labelPadding": 2, "domain": false, "title": null, "labelFont": "Liberation Sans", "labelFontSize": 14.5, "labelColor": "#222", "minExtent": 46, "maxExtent": 46}}}},
{"data": {"name": "bi"}, "mark": {"type": "line", "color": "#3ee6e6", "strokeWidth": 1.5, "clip": true},
 "encoding": {"y": {"field": "p", "type": "quantitative", "scale": {"domain": [23.2294, 26.2219], "nice": false, "zero": false}, "axis": {"values": [23.5, 24, 24.5, 25, 25.5, 26], "format": ".1f", "grid": true, "gridColor": "#3a3a3a", "gridDash": [2, 2], "tickSize": 5, "tickColor": "#333", "labelPadding": 2, "domain": false, "title": null, "labelFont": "Liberation Sans", "labelFontSize": 14.5, "labelColor": "#222", "minExtent": 46, "maxExtent": 46}}}},
{"data": {"name": "trend"}, "mark": {"type": "line", "color": "#ffff00", "strokeWidth": 2, "clip": true},
 "encoding": {"y": {"field": "p", "type": "quantitative", "scale": {"domain": [23.2294, 26.2219], "nice": false, "zero": false}, "axis": {"values": [23.5, 24, 24.5, 25, 25.5, 26], "format": ".1f", "grid": true, "gridColor": "#3a3a3a", "gridDash": [2, 2], "tickSize": 5, "tickColor": "#333", "labelPadding": 2, "domain": false, "title": null, "labelFont": "Liberation Sans", "labelFontSize": 14.5, "labelColor": "#222", "minExtent": 46, "maxExtent": 46}}}},
{"data": {"name": "arr"}, "mark": {"type": "line", "strokeWidth": 1.5, "interpolate": "monotone", "clip": true},
 "encoding": {"y": {"field": "p", "type": "quantitative", "scale": {"domain": [23.2294, 26.2219], "nice": false, "zero": false}, "axis": {"values": [23.5, 24, 24.5, 25, 25.5, 26], "format": ".1f", "grid": true, "gridColor": "#3a3a3a", "gridDash": [2, 2], "tickSize": 5, "tickColor": "#333", "labelPadding": 2, "domain": false, "title": null, "labelFont": "Liberation Sans", "labelFontSize": 14.5, "labelColor": "#222", "minExtent": 46, "maxExtent": 46}},
  "detail": {"field": "g"}, "order": {"field": "k"}, "color": {"field": "c", "type": "nominal", "scale": null}}},
{"data": {"name": "heads"}, "mark": {"type": "point", "shape": "M1,-1L0,0L1,1", "filled": false, "size": 70, "strokeWidth": 1.5, "opacity": 1, "clip": true},
 "encoding": {"y": {"field": "p", "type": "quantitative", "scale": {"domain": [23.2294, 26.2219], "nice": false, "zero": false}, "axis": {"values": [23.5, 24, 24.5, 25, 25.5, 26], "format": ".1f", "grid": true, "gridColor": "#3a3a3a", "gridDash": [2, 2], "tickSize": 5, "tickColor": "#333", "labelPadding": 2, "domain": false, "title": null, "labelFont": "Liberation Sans", "labelFontSize": 14.5, "labelColor": "#222", "minExtent": 46, "maxExtent": 46}},
  "angle": {"field": "a", "type": "quantitative", "scale": null}, "color": {"field": "c", "type": "nominal", "scale": null}}},
{"data": {"name": "ann"}, "mark": {"type": "text", "align": "center", "baseline": "middle", "font": "Noto Sans CJK SC", "clip": true},
 "encoding": {"y": {"field": "p", "type": "quantitative", "scale": {"domain": [23.2294, 26.2219], "nice": false, "zero": false}, "axis": {"values": [23.5, 24, 24.5, 25, 25.5, 26], "format": ".1f", "grid": true, "gridColor": "#3a3a3a", "gridDash": [2, 2], "tickSize": 5, "tickColor": "#333", "labelPadding": 2, "domain": false, "title": null, "labelFont": "Liberation Sans", "labelFontSize": 14.5, "labelColor": "#222", "minExtent": 46, "maxExtent": 46}},
  "text": {"field": "t"}, "color": {"field": "c", "type": "nominal", "scale": null}, "size": {"field": "s", "type": "quantitative", "scale": null}}},
{"data": {"values": [{"x1": -0.29, "x2": 32.12, "y1": 26.157, "y2": 25.816}, {"x1": 0.37, "x2": 6.99, "y1": 23.96, "y2": 23.311}]},
 "mark": {"type": "rect", "color": "#ff0000", "stroke": "#3a0000", "strokeWidth": 1},
 "encoding": {"x": {"field": "x1", "type": "quantitative", "scale": {"domain": [0.15, 296.5], "nice": false, "zero": false}, "axis": null}, "x2": {"field": "x2"},
  "y": {"field": "y1", "type": "quantitative", "scale": {"domain": [23.2294, 26.2219], "nice": false, "zero": false}, "axis": {"values": [23.5, 24, 24.5, 25, 25.5, 26], "format": ".1f", "grid": true, "gridColor": "#3a3a3a", "gridDash": [2, 2], "tickSize": 5, "tickColor": "#333", "labelPadding": 2, "domain": false, "title": null, "labelFont": "Liberation Sans", "labelFontSize": 14.5, "labelColor": "#222", "minExtent": 46, "maxExtent": 46}}, "y2": {"field": "y2"}}},
{"data": {"values": [{"i": 3.68, "p": 23.868, "t": "疯"}, {"i": 3.68, "p": 23.744, "t": "狂"}, {"i": 3.68, "p": 23.619, "t": "的"}, {"i": 3.68, "p": 23.495, "t": "缠"}, {"i": 3.68, "p": 23.37, "t": "论"}]},
 "mark": {"type": "text", "align": "center", "baseline": "middle", "font": "Noto Sans CJK SC", "fontSize": 20, "color": "#111"},
 "encoding": {"y": {"field": "p", "type": "quantitative", "scale": {"domain": [23.2294, 26.2219], "nice": false, "zero": false}, "axis": {"values": [23.5, 24, 24.5, 25, 25.5, 26], "format": ".1f", "grid": true, "gridColor": "#3a3a3a", "gridDash": [2, 2], "tickSize": 5, "tickColor": "#333", "labelPadding": 2, "domain": false, "title": null, "labelFont": "Liberation Sans", "labelFontSize": 14.5, "labelColor": "#222", "minExtent": 46, "maxExtent": 46}}, "text": {"field": "t"}}},
{"data": {"values": [{"i": 1.03, "p": 26.0487, "t": "002869 5分K线图"}]},
 "mark": {"type": "text", "align": "left", "baseline": "alphabetic", "font": "Noto Sans Mono CJK SC, Noto Sans CJK SC", "fontSize": 17.5, "color": "#1a0000"},
 "encoding": {"y": {"field": "p", "type": "quantitative", "scale": {"domain": [23.2294, 26.2219], "nice": false, "zero": false}, "axis": {"values": [23.5, 24, 24.5, 25, 25.5, 26], "format": ".1f", "grid": true, "gridColor": "#3a3a3a", "gridDash": [2, 2], "tickSize": 5, "tickColor": "#333", "labelPadding": 2, "domain": false, "title": null, "labelFont": "Liberation Sans", "labelFontSize": 14.5, "labelColor": "#222", "minExtent": 46, "maxExtent": 46}}, "text": {"field": "t"}}}
]
},
{
"width": 1344, "height": 153,
"view": {"fill": "#0a0a0a", "stroke": null},
"encoding": {"x": {"field": "i", "type": "quantitative", "scale": {"domain": [0.15, 296.5], "nice": false, "zero": false},
   "axis": {"values": [5, 23, 41, 59, 77, 95, 113, 131, 149, 167, 185, 203, 221, 239, 257, 275, 293],
    "labelExpr": "['2023-03-29  13:30','2023-03-29  15:00','2023-03-30  11:00','2023-03-30  14:00','2023-03-31  10:00','2023-03-31  11:30','2023-03-31  14:30','2023-04-03  10:30','2023-04-03  13:30','2023-04-03  15:00','2023-04-04  11:00','2023-04-04  14:00','2023-04-06  10:00','2023-04-06  11:30','2023-04-06  14:30','2023-04-07  10:30','2023-04-07  13:30'][round((datum.value-5)/18)]",
    "labelAngle": -20, "labelAlign": "center", "labelBaseline": "middle", "labelPadding": 21, "labelOverlap": false, "labelBound": false, "labelFlush": false,
    "tickSize": 5, "tickColor": "#333", "domain": false, "grid": false, "title": null, "labelFont": "Liberation Sans", "labelFontSize": 14, "labelColor": "#222"}}},
"layer": [
{"data": {"name": "k"}, "mark": {"type": "bar", "width": 3, "clip": true},
 "encoding": {
  "y": {"field": "m", "type": "quantitative", "scale": {"domain": [-0.2624, 0.6777], "nice": false, "zero": false}, "axis": {"values": [-0.2, 0, 0.2, 0.4, 0.6], "format": ".1f", "grid": true, "gridColor": "#3a3a3a", "gridDash": [2, 2], "tickSize": 5, "tickColor": "#333", "labelPadding": 2, "domain": false, "title": null, "labelFont": "Liberation Sans", "labelFontSize": 14.5, "labelColor": "#222", "minExtent": 46, "maxExtent": 46}},
  "y2": {"datum": 0},
  "color": {"condition": {"test": "datum.m >= 0", "value": "#ff1e1e"}, "value": "#2cf0f0"}}},
{"data": {"name": "dif"}, "mark": {"type": "line", "color": "#d9d9d9", "strokeWidth": 1, "interpolate": "monotone", "clip": true},
 "encoding": {"y": {"field": "v", "type": "quantitative", "scale": {"domain": [-0.2624, 0.6777], "nice": false, "zero": false}, "axis": {"values": [-0.2, 0, 0.2, 0.4, 0.6], "format": ".1f", "grid": true, "gridColor": "#3a3a3a", "gridDash": [2, 2], "tickSize": 5, "tickColor": "#333", "labelPadding": 2, "domain": false, "title": null, "labelFont": "Liberation Sans", "labelFontSize": 14.5, "labelColor": "#222", "minExtent": 46, "maxExtent": 46}}}},
{"data": {"name": "dea"}, "mark": {"type": "line", "color": "#cdbb00", "strokeWidth": 1, "interpolate": "monotone", "clip": true},
 "encoding": {"y": {"field": "v", "type": "quantitative", "scale": {"domain": [-0.2624, 0.6777], "nice": false, "zero": false}, "axis": {"values": [-0.2, 0, 0.2, 0.4, 0.6], "format": ".1f", "grid": true, "gridColor": "#3a3a3a", "gridDash": [2, 2], "tickSize": 5, "tickColor": "#333", "labelPadding": 2, "domain": false, "title": null, "labelFont": "Liberation Sans", "labelFontSize": 14.5, "labelColor": "#222", "minExtent": 46, "maxExtent": 46}}}},
{"data": {"name": "mann"}, "mark": {"type": "text", "align": "center", "baseline": "middle", "font": "Noto Sans CJK SC", "fontSize": 17, "clip": true},
 "encoding": {"y": {"field": "v", "type": "quantitative", "scale": {"domain": [-0.2624, 0.6777], "nice": false, "zero": false}, "axis": {"values": [-0.2, 0, 0.2, 0.4, 0.6], "format": ".1f", "grid": true, "gridColor": "#3a3a3a", "gridDash": [2, 2], "tickSize": 5, "tickColor": "#333", "labelPadding": 2, "domain": false, "title": null, "labelFont": "Liberation Sans", "labelFontSize": 14.5, "labelColor": "#222", "minExtent": 46, "maxExtent": 46}},
  "text": {"field": "t"}, "color": {"field": "c", "type": "nominal", "scale": null}}},
{"data": {"name": "marr"}, "mark": {"type": "line", "strokeWidth": 1.5, "color": "#c8c04a", "clip": true},
 "encoding": {"y": {"field": "v", "type": "quantitative", "scale": {"domain": [-0.2624, 0.6777], "nice": false, "zero": false}, "axis": {"values": [-0.2, 0, 0.2, 0.4, 0.6], "format": ".1f", "grid": true, "gridColor": "#3a3a3a", "gridDash": [2, 2], "tickSize": 5, "tickColor": "#333", "labelPadding": 2, "domain": false, "title": null, "labelFont": "Liberation Sans", "labelFontSize": 14.5, "labelColor": "#222", "minExtent": 46, "maxExtent": 46}}, "detail": {"field": "g"}}},
{"data": {"name": "mheads"}, "mark": {"type": "point", "shape": "M1,-1L0,0L1,1", "filled": false, "size": 70, "strokeWidth": 1.5, "color": "#c8c04a", "opacity": 1, "clip": true},
 "encoding": {"y": {"field": "v", "type": "quantitative", "scale": {"domain": [-0.2624, 0.6777], "nice": false, "zero": false}, "axis": {"values": [-0.2, 0, 0.2, 0.4, 0.6], "format": ".1f", "grid": true, "gridColor": "#3a3a3a", "gridDash": [2, 2], "tickSize": 5, "tickColor": "#333", "labelPadding": 2, "domain": false, "title": null, "labelFont": "Liberation Sans", "labelFontSize": 14.5, "labelColor": "#222", "minExtent": 46, "maxExtent": 46}},
  "angle": {"field": "a", "type": "quantitative", "scale": null}}},
{"data": {"values": [{"x1": -0.07, "x2": 22.2, "y1": 0.7085, "y2": 0.567, "f": "#ff0000"}, {"x1": -0.07, "x2": 124.73, "y1": -0.078, "y2": -0.2605, "f": "#ffff00"}]},
 "mark": {"type": "rect", "stroke": "#2a2a2a", "strokeWidth": 1},
 "encoding": {"x": {"field": "x1", "type": "quantitative", "scale": {"domain": [0.15, 296.5], "nice": false, "zero": false},
   "axis": {"values": [5, 23, 41, 59, 77, 95, 113, 131, 149, 167, 185, 203, 221, 239, 257, 275, 293],
    "labelExpr": "['2023-03-29  13:30','2023-03-29  15:00','2023-03-30  11:00','2023-03-30  14:00','2023-03-31  10:00','2023-03-31  11:30','2023-03-31  14:30','2023-04-03  10:30','2023-04-03  13:30','2023-04-03  15:00','2023-04-04  11:00','2023-04-04  14:00','2023-04-06  10:00','2023-04-06  11:30','2023-04-06  14:30','2023-04-07  10:30','2023-04-07  13:30'][round((datum.value-5)/18)]",
    "labelAngle": -20, "labelAlign": "center", "labelBaseline": "middle", "labelPadding": 21, "labelOverlap": false, "labelBound": false, "labelFlush": false,
    "tickSize": 5, "tickColor": "#333", "domain": false, "grid": false, "title": null, "labelFont": "Liberation Sans", "labelFontSize": 14, "labelColor": "#222"}}, "x2": {"field": "x2"},
  "y": {"field": "y1", "type": "quantitative", "scale": {"domain": [-0.2624, 0.6777], "nice": false, "zero": false}, "axis": {"values": [-0.2, 0, 0.2, 0.4, 0.6], "format": ".1f", "grid": true, "gridColor": "#3a3a3a", "gridDash": [2, 2], "tickSize": 5, "tickColor": "#333", "labelPadding": 2, "domain": false, "title": null, "labelFont": "Liberation Sans", "labelFontSize": 14.5, "labelColor": "#222", "minExtent": 46, "maxExtent": 46}}, "y2": {"field": "y2"},
  "fill": {"field": "f", "type": "nominal", "scale": null}}},
{"data": {"values": [{"i": 1.03, "v": 0.614, "t": "MACD(12,26,9)"}]},
 "mark": {"type": "text", "align": "left", "baseline": "alphabetic", "font": "DejaVu Sans Mono", "fontSize": 11, "color": "#1a0000"},
 "encoding": {"y": {"field": "v", "type": "quantitative", "scale": {"domain": [-0.2624, 0.6777], "nice": false, "zero": false}, "axis": {"values": [-0.2, 0, 0.2, 0.4, 0.6], "format": ".1f", "grid": true, "gridColor": "#3a3a3a", "gridDash": [2, 2], "tickSize": 5, "tickColor": "#333", "labelPadding": 2, "domain": false, "title": null, "labelFont": "Liberation Sans", "labelFontSize": 14.5, "labelColor": "#222", "minExtent": 46, "maxExtent": 46}}, "text": {"field": "t"}}},
{"data": {"values": [{"i": 1.25, "v": -0.205, "t": "缠论自动画线、买卖点自动推送：www.crazychanlun.com"}]},
 "mark": {"type": "text", "align": "left", "baseline": "alphabetic", "font": "Noto Sans Mono CJK SC, Noto Sans CJK SC", "fontSize": 22, "color": "#111"},
 "encoding": {"y": {"field": "v", "type": "quantitative", "scale": {"domain": [-0.2624, 0.6777], "nice": false, "zero": false}, "axis": {"values": [-0.2, 0, 0.2, 0.4, 0.6], "format": ".1f", "grid": true, "gridColor": "#3a3a3a", "gridDash": [2, 2], "tickSize": 5, "tickColor": "#333", "labelPadding": 2, "domain": false, "title": null, "labelFont": "Liberation Sans", "labelFontSize": 14.5, "labelColor": "#222", "minExtent": 46, "maxExtent": 46}}, "text": {"field": "t"}}}
]
}
]
}
